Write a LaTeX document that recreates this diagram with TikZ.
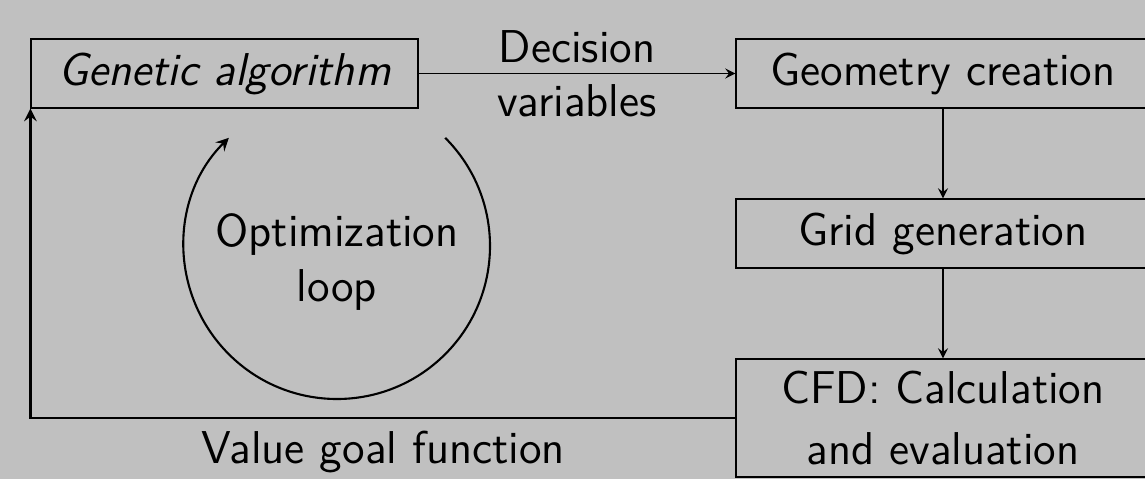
\documentclass[tikz,border=0pt]{standalone}
\usepackage{tikz}
\usetikzlibrary{arrows}
\usetikzlibrary{shapes.geometric,calc}
\definecolor{slidegray}{RGB}{192,192,192}
\tikzset{
	stagebox/.style={draw, fill=slidegray, line width=0.3pt, minimum height=0.69cm, inner sep=0pt, font=\sffamily\fontsize{13.1}{15.4}\selectfont, align=center},
	flowarrow/.style={->, >=stealth, line width=0.3pt},
	plaintext/.style={inner sep=0pt, font=\sffamily\fontsize{13.1}{15.4}\selectfont, align=center}
}
\begin{document}
	\begin{tikzpicture}
		\useasboundingbox (0,0) rectangle (11.45,-4.79);
		\fill[slidegray] (0,0) rectangle (11.45,-4.79);
		\clip (0,0) rectangle (11.45,-4.79);
		\coordinate (M) at (3.37,-2.46);
		
		\node[stagebox, minimum width=3.87cm] (ga) at (2.245,-0.735) {\itshape Genetic algorithm};
		\node[stagebox, minimum width=4.14cm] (geo) at (9.43,-0.735) {Geometry creation};
		\node[stagebox, minimum width=4.14cm] (grid) at (9.43,-2.335) {Grid generation};
		\node[stagebox, minimum width=4.14cm, minimum height=1.18cm] (cfd) at (9.43,-4.18) {CFD: Calculation\\[2pt]and evaluation};
		
		\draw[flowarrow] (ga) -- (geo) node[midway, plaintext] (dv) {Decision\\variables};
		\draw[flowarrow] (geo) -- (grid);
		\draw[flowarrow] (grid) -- (cfd);
		\draw[flowarrow][line width=0.6pt] (cfd.west) -| (ga.south west);
		\node[plaintext, anchor=base] (vgf) at (3.83,-4.63) {Value goal function};
		
		\draw[->][>=stealth][line width=0.6pt] ($(M)+(45:1.53)$) arc[start angle=45, end angle=-225, radius=1.53];
		\node[plaintext] (loop) at (3.37,-2.62) {Optimization\\loop};
	\end{tikzpicture}
\end{document}
